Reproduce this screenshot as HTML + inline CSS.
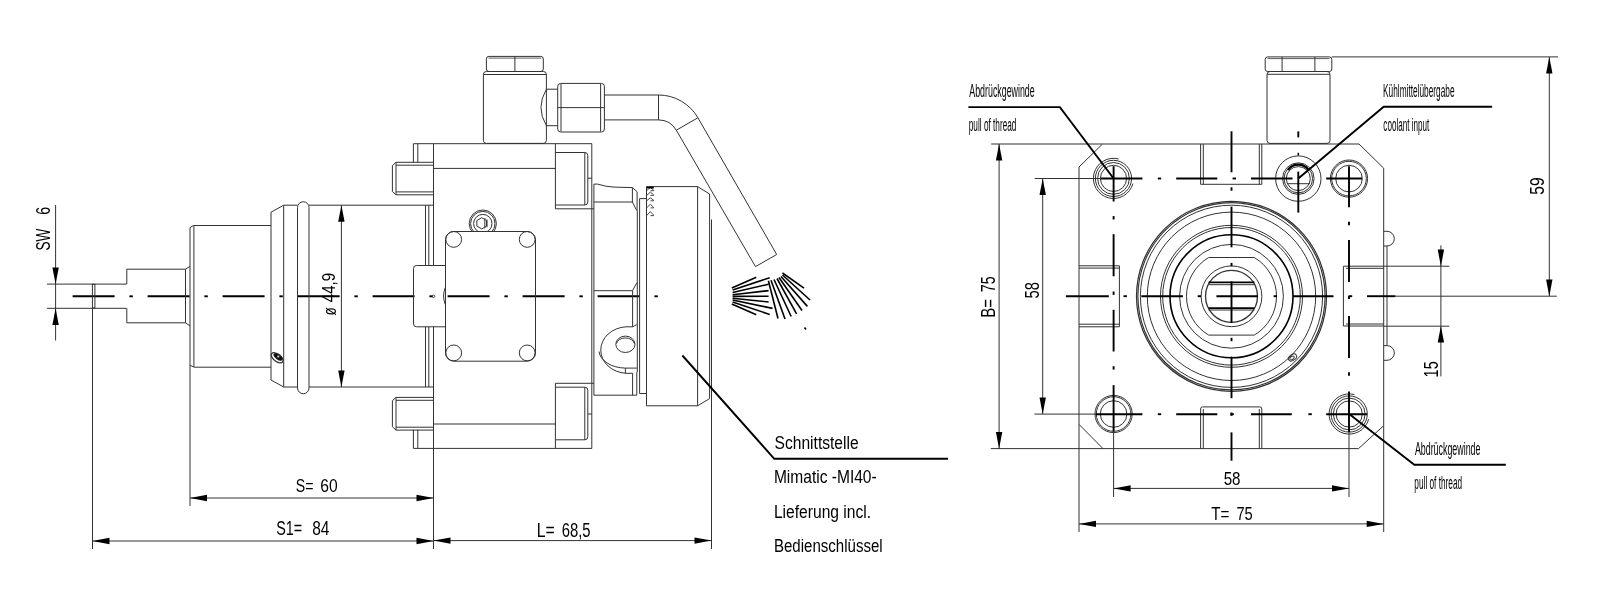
<!DOCTYPE html>
<html><head><meta charset="utf-8"><style>
html,body{margin:0;padding:0;background:#fff;}
svg{display:block;will-change:transform;}
text{font-family:"Liberation Sans",sans-serif;fill:#000;stroke:none;}
</style></head><body>
<svg width="1600" height="595" viewBox="0 0 1600 595">
<rect width="1600" height="595" fill="#fff"/>
<g fill="none" stroke="#333" stroke-linecap="butt" stroke-linejoin="miter">
<line x1="72.60" y1="296.30" x2="114.60" y2="296.30" stroke-width="1.9" stroke="#000"/>
<line x1="129.40" y1="296.30" x2="132.80" y2="296.30" stroke-width="1.9" stroke="#000"/>
<line x1="147.60" y1="296.30" x2="189.60" y2="296.30" stroke-width="1.9" stroke="#000"/>
<line x1="204.40" y1="296.30" x2="207.80" y2="296.30" stroke-width="1.9" stroke="#000"/>
<line x1="222.60" y1="296.30" x2="264.60" y2="296.30" stroke-width="1.9" stroke="#000"/>
<line x1="279.40" y1="296.30" x2="282.80" y2="296.30" stroke-width="1.9" stroke="#000"/>
<line x1="297.60" y1="296.30" x2="339.60" y2="296.30" stroke-width="1.9" stroke="#000"/>
<line x1="354.40" y1="296.30" x2="357.80" y2="296.30" stroke-width="1.9" stroke="#000"/>
<line x1="372.60" y1="296.30" x2="414.60" y2="296.30" stroke-width="1.9" stroke="#000"/>
<line x1="429.40" y1="296.30" x2="432.80" y2="296.30" stroke-width="1.9" stroke="#000"/>
<line x1="447.60" y1="296.30" x2="489.60" y2="296.30" stroke-width="1.9" stroke="#000"/>
<line x1="504.40" y1="296.30" x2="507.80" y2="296.30" stroke-width="1.9" stroke="#000"/>
<line x1="522.60" y1="296.30" x2="564.60" y2="296.30" stroke-width="1.9" stroke="#000"/>
<line x1="579.40" y1="296.30" x2="582.80" y2="296.30" stroke-width="1.9" stroke="#000"/>
<line x1="597.60" y1="296.30" x2="639.60" y2="296.30" stroke-width="1.9" stroke="#000"/>
<line x1="654.40" y1="296.30" x2="657.80" y2="296.30" stroke-width="1.9" stroke="#000"/>
<circle cx="433.60" cy="296.30" r="1.20" stroke-width="0.9"/>
<rect x="92.40" y="284.30" width="2.50" height="23.70" rx="0" stroke-width="1.0"/>
<line x1="47.00" y1="284.10" x2="126.60" y2="284.10" stroke-width="1.0"/>
<line x1="47.00" y1="308.30" x2="126.60" y2="308.30" stroke-width="1.0"/>
<line x1="126.80" y1="269.20" x2="126.80" y2="284.10" stroke-width="1.0"/>
<line x1="126.80" y1="308.30" x2="126.80" y2="322.80" stroke-width="1.0"/>
<line x1="126.80" y1="269.20" x2="185.50" y2="269.20" stroke-width="1.0"/>
<line x1="126.80" y1="322.80" x2="185.50" y2="322.80" stroke-width="1.0"/>
<line x1="185.50" y1="269.20" x2="190.00" y2="266.30" stroke-width="1.0"/>
<line x1="185.50" y1="322.80" x2="190.00" y2="325.90" stroke-width="1.0"/>
<line x1="185.50" y1="269.20" x2="185.50" y2="322.80" stroke-width="1.0"/>
<line x1="190.00" y1="227.60" x2="190.00" y2="506.00" stroke-width="1.0"/>
<line x1="193.90" y1="225.60" x2="193.90" y2="367.00" stroke-width="1.0"/>
<line x1="190.00" y1="227.60" x2="193.50" y2="225.50" stroke-width="1.0"/>
<line x1="190.00" y1="365.30" x2="194.20" y2="367.20" stroke-width="1.0"/>
<line x1="193.50" y1="225.50" x2="271.00" y2="225.50" stroke-width="1.0"/>
<line x1="194.20" y1="367.20" x2="271.00" y2="367.20" stroke-width="1.0"/>
<line x1="271.00" y1="212.20" x2="271.00" y2="380.00" stroke-width="1.0"/>
<line x1="271.00" y1="212.20" x2="283.70" y2="205.20" stroke-width="1.0"/>
<line x1="271.00" y1="380.00" x2="283.70" y2="387.00" stroke-width="1.0"/>
<line x1="283.70" y1="205.20" x2="297.50" y2="205.20" stroke-width="1.0"/>
<line x1="309.00" y1="205.20" x2="433.50" y2="205.20" stroke-width="1.0"/>
<line x1="283.70" y1="387.00" x2="297.50" y2="387.00" stroke-width="1.0"/>
<line x1="309.00" y1="387.00" x2="433.50" y2="387.00" stroke-width="1.0"/>
<line x1="283.70" y1="205.20" x2="283.70" y2="387.00" stroke-width="1.0"/>
<path d="M297.5,388 L297.5,207.5 A5.75,5.75 0 0 1 309,207.5 L309,388 A5.75,5.75 0 0 1 297.5,388" stroke-width="1.0"/>
<line x1="425.50" y1="205.20" x2="425.50" y2="265.60" stroke-width="1.0"/>
<line x1="425.50" y1="326.80" x2="425.50" y2="387.00" stroke-width="1.0"/>
<line x1="428.80" y1="205.20" x2="428.80" y2="265.60" stroke-width="1.0"/>
<line x1="428.80" y1="326.80" x2="428.80" y2="387.00" stroke-width="1.0"/>
<ellipse cx="277.20" cy="357.80" rx="6.90" ry="3.70" transform="rotate(37 277.20 357.80)" stroke-width="1.3"/>
<ellipse cx="277.9" cy="357.0" rx="5.2" ry="2.4" transform="rotate(37 277.9 357.0)" fill="#111" stroke="none"/>
<circle cx="278.3" cy="356.6" r="1.1" fill="#ccc" stroke="none"/>
<line x1="55.60" y1="205.00" x2="55.60" y2="340.50" stroke-width="1.0"/>
<path d="M55.60,284.10 L58.80,267.50 L52.40,267.50 Z" fill="#000" stroke="none"/>
<path d="M55.60,308.30 L52.40,324.90 L58.80,324.90 Z" fill="#000" stroke="none"/>
<line x1="341.40" y1="205.20" x2="341.40" y2="387.00" stroke-width="1.0"/>
<path d="M341.40,205.20 L338.20,221.80 L344.60,221.80 Z" fill="#000" stroke="none"/>
<path d="M341.40,387.00 L344.60,370.40 L338.20,370.40 Z" fill="#000" stroke="none"/>
<line x1="413.40" y1="143.70" x2="592.00" y2="143.70" stroke-width="1.0"/>
<line x1="413.40" y1="448.40" x2="592.00" y2="448.40" stroke-width="1.0"/>
<line x1="413.40" y1="143.70" x2="413.40" y2="162.50" stroke-width="1.0"/>
<line x1="417.80" y1="143.70" x2="417.80" y2="162.50" stroke-width="1.0"/>
<line x1="413.40" y1="429.60" x2="413.40" y2="448.40" stroke-width="1.0"/>
<line x1="417.80" y1="429.60" x2="417.80" y2="448.40" stroke-width="1.0"/>
<line x1="433.50" y1="143.70" x2="433.50" y2="265.50" stroke-width="1.0"/>
<line x1="433.50" y1="326.80" x2="433.50" y2="549.00" stroke-width="1.0"/>
<line x1="433.50" y1="168.40" x2="555.40" y2="168.40" stroke-width="1.0"/>
<line x1="433.50" y1="424.00" x2="555.40" y2="424.00" stroke-width="1.0"/>
<line x1="555.40" y1="143.70" x2="555.40" y2="208.80" stroke-width="1.0"/>
<line x1="555.40" y1="383.30" x2="555.40" y2="448.40" stroke-width="1.0"/>
<path d="M555.4,152.5 L584.8,152.5 A3,3 0 0 1 587.8,155.5 L587.8,202 A3,3 0 0 1 584.8,205 L555.4,205" stroke-width="1.0"/>
<path d="M555.4,387.2 L584.8,387.2 A3,3 0 0 1 587.8,390.2 L587.8,436.8 A3,3 0 0 1 584.8,439.8 L555.4,439.8" stroke-width="1.0"/>
<line x1="584.80" y1="152.50" x2="584.80" y2="205.00" stroke-width="1.0"/>
<line x1="584.80" y1="387.20" x2="584.80" y2="439.80" stroke-width="1.0"/>
<line x1="555.40" y1="208.80" x2="594.00" y2="208.80" stroke-width="1.0"/>
<line x1="555.40" y1="383.30" x2="594.00" y2="383.30" stroke-width="1.0"/>
<line x1="591.80" y1="143.70" x2="591.80" y2="448.40" stroke-width="1.0"/>
<line x1="588.00" y1="178.20" x2="591.80" y2="178.20" stroke-width="1.0"/>
<line x1="588.00" y1="414.00" x2="591.80" y2="414.00" stroke-width="1.0"/>
<path d="M433.50,162.30 L396.00,162.30 L392.40,165.60 L392.40,191.50 L396.00,194.80 L433.50,194.80" stroke-width="1.0"/>
<line x1="396.00" y1="162.30" x2="396.00" y2="194.80" stroke-width="1.0"/>
<line x1="396.00" y1="165.20" x2="433.50" y2="165.20" stroke-width="1.0"/>
<line x1="396.00" y1="191.90" x2="433.50" y2="191.90" stroke-width="1.0"/>
<path d="M433.50,397.40 L396.00,397.40 L392.40,400.70 L392.40,426.80 L396.00,430.10 L433.50,430.10" stroke-width="1.0"/>
<line x1="396.00" y1="397.40" x2="396.00" y2="430.10" stroke-width="1.0"/>
<line x1="396.00" y1="400.30" x2="433.50" y2="400.30" stroke-width="1.0"/>
<line x1="396.00" y1="427.20" x2="433.50" y2="427.20" stroke-width="1.0"/>
<path d="M445.3,265.5 L416.5,265.5 A3,3 0 0 0 413.5,268.5 L413.5,323.8 A3,3 0 0 0 416.5,326.8 L445.3,326.8" stroke-width="1.0"/>
<path d="M445.3,287.5 Q441.8,296 445.3,304.5" stroke-width="1.0"/>
<rect x="445.50" y="231.50" width="90.00" height="129.70" rx="8.3" stroke-width="1.0"/>
<circle cx="453.70" cy="239.40" r="7.90" stroke-width="1.0"/>
<circle cx="527.20" cy="239.40" r="7.90" stroke-width="1.0"/>
<circle cx="453.70" cy="352.90" r="7.90" stroke-width="1.0"/>
<circle cx="527.20" cy="352.90" r="7.90" stroke-width="1.0"/>
<clipPath id="cp1"><rect x="440" y="190" width="100" height="41.5"/></clipPath>
<g clip-path="url(#cp1)">
<circle cx="482.80" cy="223.60" r="13.60" stroke-width="1.0"/>
<circle cx="482.80" cy="223.60" r="12.20" stroke-width="1.0"/>
<circle cx="482.80" cy="223.60" r="9.20" stroke-width="1.0"/>
</g>
<path d="M486.55,226.10 L481.70,228.90 L476.85,226.10 L476.85,220.50 L481.70,217.70 L486.55,220.50 Z" stroke-width="1.0"/>
<line x1="484.80" y1="218.20" x2="484.80" y2="228.40" stroke-width="1.0"/>
<line x1="487.00" y1="219.50" x2="487.00" y2="227.20" stroke-width="1.0"/>
<rect x="486.40" y="56.40" width="56.90" height="15.10" rx="2.5" stroke-width="1.0"/>
<line x1="514.90" y1="56.40" x2="514.90" y2="71.50" stroke-width="1.0"/>
<line x1="488.50" y1="58.10" x2="541.30" y2="58.10" stroke-width="0.8"/>
<rect x="483.40" y="71.50" width="63.00" height="71.90" rx="3" stroke-width="1.0"/>
<line x1="483.40" y1="74.50" x2="546.40" y2="74.50" stroke-width="1.0"/>
<path d="M546.4,89.2 Q535.5,107.5 546.4,125.7" stroke-width="1.0"/>
<line x1="546.40" y1="89.20" x2="557.70" y2="89.20" stroke-width="1.0"/>
<line x1="546.40" y1="125.70" x2="557.70" y2="125.70" stroke-width="1.0"/>
<rect x="557.70" y="83.40" width="46.70" height="48.60" rx="3" stroke-width="1.0"/>
<line x1="561.00" y1="84.00" x2="561.00" y2="131.50" stroke-width="1.0"/>
<line x1="600.60" y1="84.00" x2="600.60" y2="131.50" stroke-width="1.0"/>
<line x1="557.70" y1="107.60" x2="604.40" y2="107.60" stroke-width="1.0"/>
<line x1="604.40" y1="95.00" x2="658.50" y2="95.00" stroke-width="1.0"/>
<line x1="604.40" y1="119.90" x2="658.50" y2="119.90" stroke-width="1.0"/>
<line x1="658.50" y1="95.00" x2="658.50" y2="119.90" stroke-width="1.0"/>
<path d="M658.5,95 A45.5,45.5 0 0 1 697.9,117.75" stroke-width="1.0"/>
<path d="M658.5,119.9 A20.6,20.6 0 0 1 676.3,130.2" stroke-width="1.0"/>
<line x1="676.30" y1="130.20" x2="697.90" y2="117.75" stroke-width="1.0"/>
<line x1="697.90" y1="117.75" x2="776.70" y2="254.50" stroke-width="1.0"/>
<line x1="676.30" y1="130.20" x2="755.50" y2="266.60" stroke-width="1.0"/>
<line x1="776.70" y1="254.50" x2="755.50" y2="266.60" stroke-width="1.0"/>
<path d="M593.9,184.1 L597.6,184.1 Q606,186.8 614.1,187.1 L632.4,187.6 L637.1,191.8 L637.1,210.6" stroke-width="1.0"/>
<line x1="593.90" y1="184.10" x2="593.90" y2="395.20" stroke-width="1.0"/>
<line x1="593.90" y1="202.00" x2="632.40" y2="202.00" stroke-width="1.0"/>
<line x1="632.40" y1="187.60" x2="632.40" y2="202.00" stroke-width="1.0"/>
<line x1="632.40" y1="202.00" x2="636.60" y2="210.30" stroke-width="1.0"/>
<line x1="637.30" y1="210.50" x2="637.30" y2="372.20" stroke-width="1.0"/>
<line x1="639.60" y1="198.60" x2="639.60" y2="393.50" stroke-width="1.0"/>
<line x1="639.60" y1="198.60" x2="646.50" y2="198.60" stroke-width="1.0"/>
<line x1="639.60" y1="393.50" x2="646.50" y2="393.50" stroke-width="1.0"/>
<line x1="593.90" y1="290.70" x2="632.40" y2="290.70" stroke-width="1.0"/>
<line x1="632.40" y1="290.70" x2="636.90" y2="282.80" stroke-width="1.0"/>
<line x1="632.60" y1="290.70" x2="632.60" y2="326.80" stroke-width="1.0"/>
<line x1="593.90" y1="395.20" x2="636.80" y2="395.20" stroke-width="1.0"/>
<line x1="632.60" y1="373.20" x2="632.60" y2="395.20" stroke-width="1.0"/>
<line x1="636.80" y1="372.20" x2="636.80" y2="395.20" stroke-width="1.0"/>
<path d="M632.6,326.8 L626,326.8 A27,23.3 0 0 0 626,373.3 L632.6,373.3" stroke-width="1.0"/>
<path d="M599,351.5 A27,18 0 0 0 625.4,368.1 L636.8,368.1" stroke-width="1.0"/>
<line x1="625.40" y1="368.10" x2="625.40" y2="373.30" stroke-width="1.0"/>
<line x1="632.60" y1="326.80" x2="636.80" y2="324.60" stroke-width="1.0"/>
<ellipse cx="625.40" cy="344.30" rx="9.60" ry="8.20" transform="rotate(0 625.40 344.30)" stroke-width="1.0"/>
<path d="M616.5,343.5 A9,6.5 0 0 1 634.3,343.5" stroke-width="1.0"/>
<line x1="646.50" y1="186.60" x2="646.50" y2="405.80" stroke-width="1.0"/>
<line x1="646.50" y1="186.60" x2="697.60" y2="186.60" stroke-width="1.0"/>
<line x1="697.60" y1="186.60" x2="709.60" y2="194.00" stroke-width="1.0"/>
<line x1="709.60" y1="194.00" x2="709.60" y2="398.60" stroke-width="1.0"/>
<line x1="709.60" y1="398.60" x2="697.60" y2="405.80" stroke-width="1.0"/>
<line x1="646.50" y1="405.80" x2="697.60" y2="405.80" stroke-width="1.0"/>
<line x1="697.60" y1="186.60" x2="697.60" y2="405.80" stroke-width="1.0"/>
<line x1="711.50" y1="219.50" x2="711.50" y2="549.00" stroke-width="1.0"/>
<path d="M646.70,190.70 L650.30,187.40 L653.60,190.10 L653.60,190.70 L650.50,190.70" stroke-width="0.9"/>
<path d="M646.70,195.40 L650.30,192.10 L653.60,194.80 L653.60,195.40 L650.50,195.40" stroke-width="0.9"/>
<path d="M646.70,200.80 L650.30,197.80 L653.60,200.20 L653.60,200.80 L650.50,200.80" stroke-width="0.9"/>
<path d="M646.70,207.90 L650.30,204.20 L653.60,207.30 L653.60,207.90 L650.50,207.90" stroke-width="0.9"/>
<path d="M646.70,215.60 L650.30,211.60 L653.60,215.00 L653.60,215.60 L650.50,215.60" stroke-width="0.9"/>
<line x1="646.70" y1="187.60" x2="653.80" y2="187.60" stroke-width="1.8" stroke="#000"/>
<line x1="731.80" y1="288.00" x2="756.30" y2="277.20" stroke-width="1.6" stroke="#000"/>
<line x1="732.60" y1="290.00" x2="769.70" y2="277.70" stroke-width="1.6" stroke="#000"/>
<line x1="732.60" y1="292.50" x2="768.60" y2="284.20" stroke-width="1.6" stroke="#000"/>
<line x1="732.60" y1="294.80" x2="768.60" y2="290.60" stroke-width="1.6" stroke="#000"/>
<line x1="732.60" y1="296.40" x2="768.60" y2="296.20" stroke-width="1.6" stroke="#000"/>
<line x1="732.60" y1="298.20" x2="768.60" y2="302.00" stroke-width="1.6" stroke="#000"/>
<line x1="732.60" y1="300.00" x2="772.50" y2="308.40" stroke-width="1.6" stroke="#000"/>
<line x1="732.60" y1="302.00" x2="769.70" y2="314.40" stroke-width="1.6" stroke="#000"/>
<line x1="731.80" y1="304.00" x2="756.30" y2="314.80" stroke-width="1.6" stroke="#000"/>
<line x1="768.40" y1="280.80" x2="778.00" y2="318.50" stroke-width="1.6" stroke="#000"/>
<line x1="771.00" y1="280.20" x2="785.00" y2="319.10" stroke-width="1.6" stroke="#000"/>
<line x1="774.00" y1="279.50" x2="791.20" y2="316.50" stroke-width="1.6" stroke="#000"/>
<line x1="777.00" y1="278.50" x2="796.60" y2="313.80" stroke-width="1.6" stroke="#000"/>
<line x1="779.00" y1="277.50" x2="802.00" y2="310.50" stroke-width="1.6" stroke="#000"/>
<line x1="781.00" y1="276.50" x2="807.40" y2="306.40" stroke-width="1.6" stroke="#000"/>
<line x1="782.50" y1="275.00" x2="810.00" y2="300.00" stroke-width="1.6" stroke="#000"/>
<line x1="782.50" y1="273.00" x2="804.00" y2="288.20" stroke-width="1.6" stroke="#000"/>
<line x1="804.50" y1="327.50" x2="806.00" y2="329.50" stroke-width="1.6" stroke="#000"/>
<path d="M682.40,355.50 L774.30,458.80 L948.00,458.80" stroke-width="1.9" stroke="#000"/>
<line x1="92.50" y1="308.30" x2="92.50" y2="549.00" stroke-width="1.0"/>
<line x1="190.00" y1="498.00" x2="433.50" y2="498.00" stroke-width="1.0"/>
<path d="M190.00,498.00 L207.00,501.20 L207.00,494.80 Z" fill="#000" stroke="none"/>
<path d="M433.50,498.00 L416.50,494.80 L416.50,501.20 Z" fill="#000" stroke="none"/>
<line x1="92.50" y1="541.00" x2="433.50" y2="541.00" stroke-width="1.0"/>
<path d="M92.50,541.00 L109.50,544.20 L109.50,537.80 Z" fill="#000" stroke="none"/>
<path d="M433.50,541.00 L416.50,537.80 L416.50,544.20 Z" fill="#000" stroke="none"/>
<line x1="433.50" y1="540.60" x2="711.50" y2="540.60" stroke-width="1.0"/>
<path d="M433.50,540.60 L450.50,543.80 L450.50,537.40 Z" fill="#000" stroke="none"/>
<path d="M711.50,540.60 L694.50,537.40 L694.50,543.80 Z" fill="#000" stroke="none"/>
<path d="M1102.50,144.00 L1359.00,144.00 L1383.70,168.20 L1383.70,425.70 L1358.50,448.60 L1103.00,448.60 L1079.00,424.40 L1079.00,167.00 L1102.50,144.00" stroke-width="1.0"/>
<line x1="991.20" y1="144.00" x2="1102.50" y2="144.00" stroke-width="1.0"/>
<line x1="990.80" y1="448.60" x2="1103.00" y2="448.60" stroke-width="1.0"/>
<line x1="1079.00" y1="424.40" x2="1079.00" y2="532.00" stroke-width="1.0"/>
<line x1="1383.70" y1="425.70" x2="1383.70" y2="532.00" stroke-width="1.0"/>
<path d="M1200.6,144 L1200.6,184.3 L1261.8,184.3 L1261.8,144" stroke-width="1.0"/>
<line x1="1203.30" y1="144.00" x2="1203.30" y2="184.30" stroke-width="1.0"/>
<line x1="1259.30" y1="144.00" x2="1259.30" y2="184.30" stroke-width="1.0"/>
<path d="M1200.6,448.6 L1200.6,409 Q1200.6,406.9 1202.6,406.9 L1259.8,406.9 Q1261.8,406.9 1261.8,409 L1261.8,448.6" stroke-width="1.0"/>
<line x1="1203.30" y1="409.00" x2="1203.30" y2="448.60" stroke-width="1.0"/>
<line x1="1259.30" y1="409.00" x2="1259.30" y2="448.60" stroke-width="1.0"/>
<path d="M1079,265.8 L1119.4,265.8 L1119.4,326.8 L1079,326.8" stroke-width="1.0"/>
<line x1="1079.00" y1="268.10" x2="1119.40" y2="268.10" stroke-width="1.0"/>
<line x1="1079.00" y1="324.20" x2="1119.40" y2="324.20" stroke-width="1.0"/>
<path d="M1383.7,266.2 L1343.4,266.2 L1343.4,326 L1383.7,326" stroke-width="1.0"/>
<line x1="1346.00" y1="268.30" x2="1383.70" y2="268.30" stroke-width="1.0"/>
<line x1="1346.00" y1="324.00" x2="1383.70" y2="324.00" stroke-width="1.0"/>
<path d="M1383.7,231.3 L1387,231.3 A7.3,7.3 0 0 1 1387,246 L1383.7,246" stroke-width="1.0"/>
<path d="M1383.7,345.6 L1387,345.6 A7.3,7.3 0 0 1 1387,360.3 L1383.7,360.3" stroke-width="1.0"/>
<line x1="1387.00" y1="246.00" x2="1387.00" y2="345.60" stroke-width="1.0"/>
<circle cx="1113.50" cy="178.40" r="13.10" stroke-width="1.0"/>
<circle cx="1113.50" cy="178.40" r="15.90" stroke-width="1.0"/>
<circle cx="1113.50" cy="178.40" r="18.10" stroke-width="1.0"/>
<path d="M1132.92,183.60 A20.1,20.1 0 1 1 1118.70,158.98" stroke-width="1.0"/>
<circle cx="1349.00" cy="178.60" r="13.30" stroke-width="1.0"/>
<circle cx="1349.00" cy="178.60" r="17.30" stroke-width="1.0"/>
<circle cx="1349.00" cy="178.60" r="18.60" stroke-width="1.0"/>
<circle cx="1113.60" cy="414.00" r="13.30" stroke-width="1.0"/>
<circle cx="1113.60" cy="414.00" r="17.30" stroke-width="1.0"/>
<circle cx="1113.60" cy="414.00" r="18.60" stroke-width="1.0"/>
<circle cx="1349.20" cy="414.00" r="13.10" stroke-width="1.0"/>
<circle cx="1349.20" cy="414.00" r="15.90" stroke-width="1.0"/>
<circle cx="1349.20" cy="414.00" r="18.10" stroke-width="1.0"/>
<path d="M1368.62,419.20 A20.1,20.1 0 1 1 1354.40,394.58" stroke-width="1.0"/>
<circle cx="1298.30" cy="178.60" r="22.70" stroke-width="1.0"/>
<circle cx="1298.30" cy="178.60" r="15.80" stroke-width="1.0"/>
<circle cx="1298.30" cy="178.60" r="14.30" stroke-width="1.0"/>
<circle cx="1298.30" cy="178.60" r="12.00" stroke-width="1.0"/>
<line x1="1287.00" y1="183.70" x2="1310.00" y2="183.70" stroke-width="1.0"/>
<path d="M1288,170 A12.5,12.5 0 0 1 1308.5,170" stroke-width="2.2" stroke="#000"/>
<line x1="1298.30" y1="152.80" x2="1298.30" y2="155.50" stroke-width="1.5" stroke="#000"/>
<circle cx="1231.50" cy="296.30" r="95.00" stroke-width="1.25"/>
<circle cx="1231.50" cy="296.30" r="93.60" stroke-width="1.15"/>
<circle cx="1231.50" cy="296.30" r="91.10" stroke-width="1.0"/>
<circle cx="1231.50" cy="296.30" r="84.20" stroke-width="1.0"/>
<circle cx="1231.50" cy="296.30" r="71.00" stroke-width="1.0"/>
<circle cx="1231.50" cy="296.30" r="68.80" stroke-width="1.0"/>
<circle cx="1231.50" cy="296.30" r="61.50" stroke-width="1.6" stroke="#000"/>
<circle cx="1231.50" cy="296.30" r="51.90" stroke-width="1.0"/>
<circle cx="1231.50" cy="296.30" r="30.40" stroke-width="1.0"/>
<circle cx="1231.50" cy="296.30" r="26.00" stroke-width="1.3"/>
<line x1="1208.70" y1="257.50" x2="1254.30" y2="257.50" stroke-width="1.0"/>
<line x1="1208.70" y1="335.10" x2="1254.30" y2="335.10" stroke-width="1.0"/>
<path d="M1208.7,257.5 A45,45 0 0 0 1208.7,335.1" stroke-width="1.0"/>
<path d="M1254.3,257.5 A45,45 0 0 1 1254.3,335.1" stroke-width="1.0"/>
<line x1="1208.60" y1="282.40" x2="1254.30" y2="282.40" stroke-width="1.6" stroke="#000"/>
<line x1="1208.60" y1="284.70" x2="1254.30" y2="284.70" stroke-width="1.0"/>
<line x1="1208.60" y1="308.10" x2="1254.30" y2="308.10" stroke-width="1.6" stroke="#000"/>
<line x1="1208.60" y1="310.00" x2="1254.30" y2="310.00" stroke-width="1.0"/>
<ellipse cx="1292.50" cy="357.50" rx="4.50" ry="3.00" transform="rotate(-35 1292.50 357.50)" stroke-width="1.0"/>
<ellipse cx="1292.00" cy="358.00" rx="2.50" ry="1.50" transform="rotate(-35 1292.00 358.00)" stroke-width="1.0"/>
<line x1="1231.50" y1="131.30" x2="1231.50" y2="172.30" stroke-width="1.9" stroke="#000"/>
<line x1="1231.50" y1="187.30" x2="1231.50" y2="190.70" stroke-width="1.9" stroke="#000"/>
<line x1="1231.50" y1="206.60" x2="1231.50" y2="247.30" stroke-width="1.9" stroke="#000"/>
<line x1="1231.50" y1="262.90" x2="1231.50" y2="266.30" stroke-width="1.9" stroke="#000"/>
<line x1="1231.50" y1="281.40" x2="1231.50" y2="322.90" stroke-width="1.9" stroke="#000"/>
<line x1="1231.50" y1="337.80" x2="1231.50" y2="341.20" stroke-width="1.9" stroke="#000"/>
<line x1="1231.50" y1="356.60" x2="1231.50" y2="398.20" stroke-width="1.9" stroke="#000"/>
<line x1="1231.50" y1="412.50" x2="1231.50" y2="415.90" stroke-width="1.9" stroke="#000"/>
<line x1="1231.50" y1="432.40" x2="1231.50" y2="460.70" stroke-width="1.9" stroke="#000"/>
<line x1="1065.90" y1="296.20" x2="1108.80" y2="296.20" stroke-width="1.9" stroke="#000"/>
<line x1="1123.50" y1="296.20" x2="1126.90" y2="296.20" stroke-width="1.9" stroke="#000"/>
<line x1="1141.30" y1="296.20" x2="1182.90" y2="296.20" stroke-width="1.9" stroke="#000"/>
<line x1="1197.70" y1="296.20" x2="1201.10" y2="296.20" stroke-width="1.9" stroke="#000"/>
<line x1="1216.40" y1="296.20" x2="1257.90" y2="296.20" stroke-width="1.9" stroke="#000"/>
<line x1="1273.60" y1="296.20" x2="1277.00" y2="296.20" stroke-width="1.9" stroke="#000"/>
<line x1="1292.90" y1="296.20" x2="1333.50" y2="296.20" stroke-width="1.9" stroke="#000"/>
<line x1="1348.80" y1="296.20" x2="1352.20" y2="296.20" stroke-width="1.9" stroke="#000"/>
<line x1="1367.00" y1="296.20" x2="1395.50" y2="296.20" stroke-width="1.9" stroke="#000"/>
<line x1="1395.50" y1="296.20" x2="1556.80" y2="296.20" stroke-width="1.0"/>
<line x1="1100.50" y1="178.50" x2="1142.40" y2="178.50" stroke-width="1.9" stroke="#000"/>
<line x1="1157.80" y1="178.50" x2="1161.20" y2="178.50" stroke-width="1.9" stroke="#000"/>
<line x1="1176.20" y1="178.50" x2="1217.30" y2="178.50" stroke-width="1.9" stroke="#000"/>
<line x1="1232.60" y1="178.50" x2="1236.00" y2="178.50" stroke-width="1.9" stroke="#000"/>
<line x1="1251.00" y1="178.50" x2="1292.50" y2="178.50" stroke-width="1.9" stroke="#000"/>
<line x1="1326.20" y1="178.50" x2="1362.00" y2="178.50" stroke-width="1.9" stroke="#000"/>
<line x1="1298.30" y1="171.60" x2="1298.30" y2="212.60" stroke-width="1.9" stroke="#000"/>
<line x1="1298.30" y1="131.40" x2="1298.30" y2="137.40" stroke-width="1.9" stroke="#000"/>
<line x1="1095.50" y1="414.20" x2="1142.40" y2="414.20" stroke-width="1.9" stroke="#000"/>
<line x1="1157.80" y1="414.20" x2="1161.20" y2="414.20" stroke-width="1.9" stroke="#000"/>
<line x1="1176.20" y1="414.20" x2="1217.30" y2="414.20" stroke-width="1.9" stroke="#000"/>
<line x1="1230.40" y1="414.20" x2="1233.80" y2="414.20" stroke-width="1.9" stroke="#000"/>
<line x1="1251.00" y1="414.20" x2="1291.80" y2="414.20" stroke-width="1.9" stroke="#000"/>
<line x1="1308.40" y1="414.20" x2="1311.80" y2="414.20" stroke-width="1.9" stroke="#000"/>
<line x1="1326.20" y1="414.20" x2="1367.00" y2="414.20" stroke-width="1.9" stroke="#000"/>
<line x1="1113.60" y1="166.20" x2="1113.60" y2="201.50" stroke-width="1.9" stroke="#000"/>
<line x1="1113.60" y1="216.10" x2="1113.60" y2="219.50" stroke-width="1.9" stroke="#000"/>
<line x1="1113.60" y1="234.20" x2="1113.60" y2="276.30" stroke-width="1.9" stroke="#000"/>
<line x1="1113.60" y1="291.50" x2="1113.60" y2="294.90" stroke-width="1.9" stroke="#000"/>
<line x1="1113.60" y1="309.80" x2="1113.60" y2="351.50" stroke-width="1.9" stroke="#000"/>
<line x1="1113.60" y1="366.20" x2="1113.60" y2="369.60" stroke-width="1.9" stroke="#000"/>
<line x1="1113.60" y1="385.10" x2="1113.60" y2="431.50" stroke-width="1.9" stroke="#000"/>
<line x1="1113.60" y1="431.50" x2="1113.60" y2="497.00" stroke-width="1.0"/>
<line x1="1349.00" y1="166.20" x2="1349.00" y2="207.20" stroke-width="1.9" stroke="#000"/>
<line x1="1349.00" y1="221.80" x2="1349.00" y2="225.20" stroke-width="1.9" stroke="#000"/>
<line x1="1349.00" y1="240.00" x2="1349.00" y2="282.00" stroke-width="1.9" stroke="#000"/>
<line x1="1349.00" y1="295.70" x2="1349.00" y2="299.10" stroke-width="1.9" stroke="#000"/>
<line x1="1349.00" y1="316.00" x2="1349.00" y2="358.00" stroke-width="1.9" stroke="#000"/>
<line x1="1349.00" y1="372.30" x2="1349.00" y2="375.70" stroke-width="1.9" stroke="#000"/>
<line x1="1349.00" y1="391.50" x2="1349.00" y2="432.00" stroke-width="1.9" stroke="#000"/>
<line x1="1349.00" y1="432.00" x2="1349.00" y2="497.00" stroke-width="1.0"/>
<line x1="999.10" y1="144.00" x2="999.10" y2="448.60" stroke-width="1.0"/>
<path d="M999.10,144.00 L995.90,160.60 L1002.30,160.60 Z" fill="#000" stroke="none"/>
<path d="M999.10,448.60 L1002.30,432.00 L995.90,432.00 Z" fill="#000" stroke="none"/>
<line x1="1034.70" y1="178.50" x2="1100.00" y2="178.50" stroke-width="1.0"/>
<line x1="1034.40" y1="414.10" x2="1095.00" y2="414.10" stroke-width="1.0"/>
<line x1="1042.70" y1="178.50" x2="1042.70" y2="414.10" stroke-width="1.0"/>
<path d="M1042.70,178.50 L1039.50,195.10 L1045.90,195.10 Z" fill="#000" stroke="none"/>
<path d="M1042.70,414.10 L1045.90,397.50 L1039.50,397.50 Z" fill="#000" stroke="none"/>
<line x1="1113.60" y1="488.40" x2="1349.00" y2="488.40" stroke-width="1.0"/>
<path d="M1113.60,488.40 L1130.60,491.60 L1130.60,485.20 Z" fill="#000" stroke="none"/>
<path d="M1349.00,488.40 L1332.00,485.20 L1332.00,491.60 Z" fill="#000" stroke="none"/>
<line x1="1079.00" y1="523.90" x2="1383.70" y2="523.90" stroke-width="1.0"/>
<path d="M1079.00,523.90 L1096.00,527.10 L1096.00,520.70 Z" fill="#000" stroke="none"/>
<path d="M1383.70,523.90 L1366.70,520.70 L1366.70,527.10 Z" fill="#000" stroke="none"/>
<line x1="1384.00" y1="266.20" x2="1449.30" y2="266.20" stroke-width="1.0"/>
<line x1="1384.00" y1="326.20" x2="1449.30" y2="326.20" stroke-width="1.0"/>
<line x1="1440.90" y1="245.40" x2="1440.90" y2="376.40" stroke-width="1.0"/>
<path d="M1440.90,266.20 L1444.10,249.60 L1437.70,249.60 Z" fill="#000" stroke="none"/>
<path d="M1440.90,326.00 L1437.70,342.60 L1444.10,342.60 Z" fill="#000" stroke="none"/>
<line x1="1331.80" y1="56.90" x2="1558.10" y2="56.90" stroke-width="1.0"/>
<line x1="1549.30" y1="56.90" x2="1549.30" y2="296.20" stroke-width="1.0"/>
<path d="M1549.30,56.90 L1546.10,73.50 L1552.50,73.50 Z" fill="#000" stroke="none"/>
<path d="M1549.30,296.20 L1552.50,279.60 L1546.10,279.60 Z" fill="#000" stroke="none"/>
<path d="M968.40,107.10 L1059.90,107.10 L1113.60,178.50" stroke-width="1.9" stroke="#000"/>
<path d="M1492.10,106.80 L1383.70,106.80 L1298.30,178.60" stroke-width="1.9" stroke="#000"/>
<path d="M1349.20,414.00 L1414.30,464.70 L1505.80,464.70" stroke-width="1.9" stroke="#000"/>
<rect x="1265.20" y="56.90" width="66.60" height="14.60" rx="2.5" stroke-width="1.0"/>
<line x1="1282.10" y1="56.90" x2="1282.10" y2="71.50" stroke-width="1.0"/>
<line x1="1314.90" y1="56.90" x2="1314.90" y2="71.50" stroke-width="1.0"/>
<rect x="1267.00" y="71.50" width="63.00" height="71.90" rx="3" stroke-width="1.0"/>
<line x1="1267.00" y1="74.30" x2="1330.00" y2="74.30" stroke-width="1.0"/>
<line x1="1267.50" y1="58.60" x2="1329.50" y2="58.60" stroke-width="0.8"/>
<text x="295.76" y="491.70" font-size="19.04" textLength="17.74" lengthAdjust="spacingAndGlyphs" fill="#000">S=</text>
<text x="320.21" y="491.70" font-size="19.04" textLength="17.41" lengthAdjust="spacingAndGlyphs" fill="#000">60</text>
<text x="276.25" y="534.90" font-size="19.33" textLength="25.96" lengthAdjust="spacingAndGlyphs" fill="#000">S1=</text>
<text x="312.13" y="534.90" font-size="19.33" textLength="17.23" lengthAdjust="spacingAndGlyphs" fill="#000">84</text>
<text x="536.81" y="536.90" font-size="19.48" textLength="17.97" lengthAdjust="spacingAndGlyphs" fill="#000">L=</text>
<text x="561.75" y="536.90" font-size="19.48" textLength="28.88" lengthAdjust="spacingAndGlyphs" fill="#000">68,5</text>
<text x="1223.69" y="484.70" font-size="19.04" textLength="16.87" lengthAdjust="spacingAndGlyphs" fill="#000">58</text>
<text x="1211.16" y="519.60" font-size="19.04" textLength="18.19" lengthAdjust="spacingAndGlyphs" fill="#000">T=</text>
<text x="1236.45" y="519.60" font-size="19.04" textLength="16.37" lengthAdjust="spacingAndGlyphs" fill="#000">75</text>
<text x="774.49" y="448.80" font-size="19.19" textLength="84.20" lengthAdjust="spacingAndGlyphs" fill="#000">Schnittstelle</text>
<text x="773.92" y="482.90" font-size="18.90" textLength="102.77" lengthAdjust="spacingAndGlyphs" fill="#000">Mimatic -MI40-</text>
<text x="773.92" y="518.00" font-size="18.90" textLength="97.21" lengthAdjust="spacingAndGlyphs" fill="#000">Lieferung incl.</text>
<text x="773.97" y="552.30" font-size="18.90" textLength="108.74" lengthAdjust="spacingAndGlyphs" fill="#000">Bedienschlüssel</text>
<text x="969.28" y="96.80" font-size="19.04" textLength="65.41" lengthAdjust="spacingAndGlyphs" fill="#000">Abdrückgewinde</text>
<text x="1383.02" y="96.60" font-size="18.75" textLength="71.55" lengthAdjust="spacingAndGlyphs" fill="#000">Kühlmittelübergabe</text>
<text x="1414.88" y="454.60" font-size="19.04" textLength="65.61" lengthAdjust="spacingAndGlyphs" fill="#000">Abdrückgewinde</text>
<text x="968.77" y="131.30" font-size="18.22" textLength="47.66" lengthAdjust="spacingAndGlyphs" fill="#000">pull of thread</text>
<text x="1383.36" y="131.30" font-size="18.08" textLength="46.00" lengthAdjust="spacingAndGlyphs" fill="#000">coolant input</text>
<text x="1414.37" y="488.50" font-size="18.22" textLength="47.76" lengthAdjust="spacingAndGlyphs" fill="#000">pull of thread</text>
<text x="49.80" y="250.52" font-size="19.91" textLength="21.86" lengthAdjust="spacingAndGlyphs" transform="rotate(-90 49.80 250.52)" fill="#000">SW</text>
<text x="49.80" y="214.73" font-size="19.91" textLength="7.95" lengthAdjust="spacingAndGlyphs" transform="rotate(-90 49.80 214.73)" fill="#000">6</text>
<text x="335.30" y="302.15" font-size="18.02" textLength="29.36" lengthAdjust="spacingAndGlyphs" transform="rotate(-90 335.30 302.15)" fill="#000">44,9</text>
<text x="335.90" y="315.59" font-size="18.35" textLength="8.30" lengthAdjust="spacingAndGlyphs" transform="rotate(-90 335.90 315.59)" fill="#000">ø</text>
<text x="995.20" y="317.83" font-size="19.33" textLength="18.77" lengthAdjust="spacingAndGlyphs" transform="rotate(-90 995.20 317.83)" fill="#000">B=</text>
<text x="995.20" y="292.13" font-size="19.33" textLength="15.83" lengthAdjust="spacingAndGlyphs" transform="rotate(-90 995.20 292.13)" fill="#000">75</text>
<text x="1038.80" y="298.39" font-size="19.48" textLength="16.43" lengthAdjust="spacingAndGlyphs" transform="rotate(-90 1038.80 298.39)" fill="#000">58</text>
<text x="1437.70" y="377.40" font-size="19.77" textLength="16.11" lengthAdjust="spacingAndGlyphs" transform="rotate(-90 1437.70 377.40)" fill="#000">15</text>
<text x="1544.10" y="194.72" font-size="20.49" textLength="17.26" lengthAdjust="spacingAndGlyphs" transform="rotate(-90 1544.10 194.72)" fill="#000">59</text>
</g>
</svg>
</body></html>
